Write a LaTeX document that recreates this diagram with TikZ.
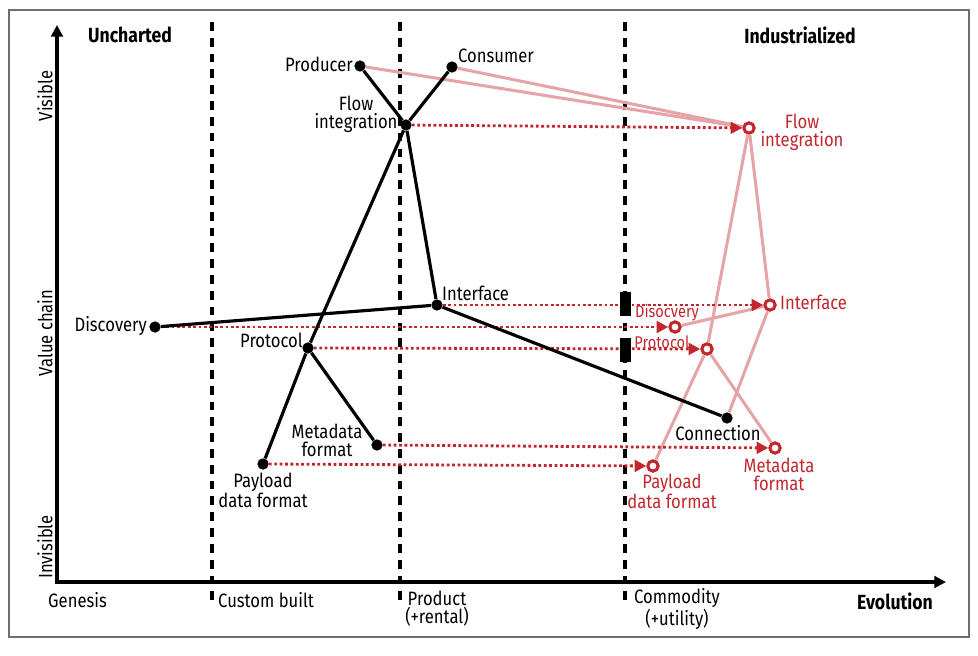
\documentclass[tikz,border=0pt]{standalone}
\usepackage{fontspec}
\setmainfont{Fira Sans}[FakeStretch=0.86]
\usepackage{xcolor}
\usetikzlibrary{arrows.meta, positioning}
\definecolor{evored}{HTML}{C1272D}
\definecolor{evopink}{HTML}{E6A4A8}
\definecolor{framegray}{HTML}{6E6E6E}

\begin{document}
\begin{tikzpicture}[
    x=0.03cm, y=-0.03cm,
    font=\fontsize{16.5}{15.5}\selectfont,
    comp/.style={circle, fill=black, inner sep=0pt, minimum size=0.34cm},
    evocomp/.style={circle, draw=evored, fill=white, line width=2.6pt, inner sep=0pt, minimum size=0.31cm},
    lbl/.style={inner sep=0pt, align=center},
    evolbl/.style={lbl, text=evored},
    smalllbl/.style={evolbl, font=\fontsize{14.5}{14}\selectfont},
    head/.style={lbl, font=\fontsize{17.5}{16}\selectfont\bfseries},
    link/.style={line width=2.7pt},
    evolink/.style={line width=2.6pt, draw=evopink},
    evo/.style={evored, line width=2.4pt, dash pattern=on 2.4pt off 2.2pt, -{Triangle[length=10pt, width=10pt]}},
    era/.style={line width=2.8pt, dash pattern=on 7.5pt off 6pt},
    axis/.style={line width=2.8pt, {Triangle[length=10pt, width=10pt]}-{Triangle[length=10pt, width=10pt]}}
]
\useasboundingbox (0,0) rectangle (978,656);
\draw[framegray, line width=1.2pt] (9,10) rectangle (969,637);

\draw[era] (212,22) -- (212,607);
\draw[era] (400,22) -- (400,607);
\draw[era] (625,22) -- (625,607);

\coordinate (ytop) at (57,25);
\coordinate (origin) at (57,582);
\coordinate (xend) at (946,582);
\draw[axis] (ytop) -- (origin) -- (xend);

\node[head] (uncharted) at (130,35) {Uncharted};
\node[head] (industrialized) at (800,35) {Industrialized};
\node[lbl, rotate=90] (visible) at (45,96) {Visible};
\node[lbl, rotate=90] (valuechain) at (45,333) {Value chain};
\node[lbl, rotate=90] (invisible) at (45,547) {Invisible};
\node[lbl, anchor=west] (genesis) at (48,600) {Genesis};
\node[lbl, anchor=west] (custom) at (218,600) {Custom built};
\node[lbl] (product) at (437,609) {Product\\(+rental)};
\node[lbl] (commodity) at (677,609) {Commodity\\(+utility)};
\node[head] (evolution) at (895,601) {Evolution};

\node[comp] (producer) at (360,66) {};
\node[comp] (consumer) at (452,67) {};
\node[comp] (flow) at (406,125) {};
\node[comp] (interface) at (437,305) {};
\node[comp] (discovery) at (155,327) {};
\node[comp] (protocol) at (308,348) {};
\node[comp] (metadata) at (377,445) {};
\node[comp] (payload) at (263,464) {};
\node[comp] (connection) at (727,418) {};

\node[evocomp] (flowR) at (749,128) {};
\node[evocomp] (interfaceR) at (770,305) {};
\node[evocomp] (discoveryR) at (675,327) {};
\node[evocomp] (protocolR) at (707,349) {};
\node[evocomp] (metadataR) at (775,448) {};
\node[evocomp] (payloadR) at (653,466) {};

\node[lbl, anchor=east] (producerlbl) at (353,64) {Producer};
\node[lbl, anchor=west] (consumerlbl) at (458,56) {Consumer};
\node[lbl] (flowlbl) at (356,114) {Flow\\integration};
\node[lbl, anchor=west] (interfacelbl) at (442,293) {Interface};
\node[lbl, anchor=east] (discoverylbl) at (147,326) {Discovery};
\node[lbl, anchor=east] (protocollbl) at (303,340) {Protocol};
\node[lbl] (metadatalbl) at (327,440) {Metadata\\format};
\node[lbl] (payloadlbl) at (263,490) {Payload\\data format};
\node[lbl] (connectionlbl) at (718,433) {Connection};

\node[evolbl] (flowRlbl) at (802,132) {Flow\\integration};
\node[evolbl, anchor=west] (interfaceRlbl) at (780,302) {Interface};
\node[smalllbl] (discoveryRlbl) at (667,313) {Disocvery};
\node[smalllbl] (protocolRlbl) at (662,342) {Protocol};
\node[evolbl] (metadataRlbl) at (779,474) {Metadata\\format};
\node[evolbl] (payloadRlbl) at (672,491) {Payload\\data format};

\draw[evolink] (producer) -- (flowR);
\draw[evolink] (consumer) -- (flowR);
\draw[evolink] (flowR) -- (interfaceR);
\draw[evolink] (flowR) -- (protocolR);
\draw[evolink] (protocolR) -- (payloadR);
\draw[evolink] (protocolR) -- (metadataR);
\draw[evolink] (interfaceR) -- (discoveryR);
\draw[evolink] (interfaceR) -- (connection);

\draw[evo] (flow) -- (flowR);
\draw[evo] (interface) -- (interfaceR);
\draw[evo] (discovery) -- (discoveryR);
\draw[evo] (protocol) -- (protocolR);
\draw[evo] (metadata) -- (metadataR);
\draw[evo] (payload) -- (payloadR);

\draw[link] (producer) -- (flow);
\draw[link] (consumer) -- (flow);
\draw[link] (flow) -- (interface);
\draw[link] (flow) -- (protocol);
\draw[link] (protocol) -- (payload);
\draw[link] (protocol) -- (metadata);
\draw[link] (interface) -- (discovery);
\draw[link] (interface) -- (connection);

\fill (620,292) rectangle (631,316);
\fill (620,338) rectangle (631,362);
\end{tikzpicture}
\end{document}
